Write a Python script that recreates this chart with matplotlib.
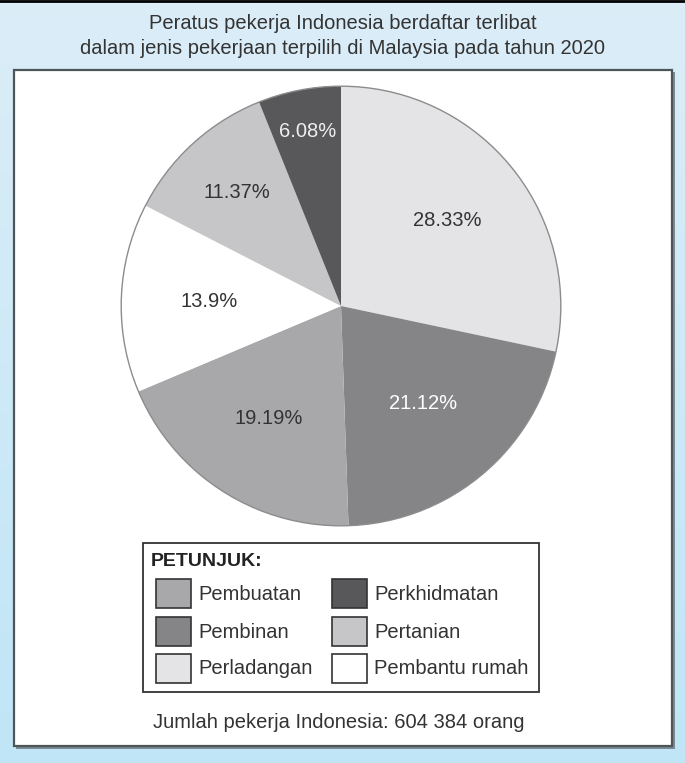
import numpy as np
import matplotlib.pyplot as plt
from matplotlib.patches import Rectangle, Circle

plt.rcParams['font.family'] = ['Liberation Sans', 'DejaVu Sans']

# data (clockwise from 12 o'clock)
categories = ['Perladangan', 'Pembinan', 'Pembuatan', 'Pembantu rumah', 'Pertanian', 'Perkhidmatan']
values = [28.33, 21.12, 19.19, 13.9, 11.37, 6.08]
labels = ['28.33%', '21.12%', '19.19%', '13.9%', '11.37%', '6.08%']
colors = ['#e4e4e6', '#858587', '#a8a8aa', '#ffffff', '#c6c6c8', '#58585a']
label_colors = ['#333333', '#ffffff', '#333333', '#333333', '#333333', '#eeeeee']
label_dist = [0.62, 0.58, 0.61, 0.60, 0.70, 0.81]

legend_order = ['Pembuatan', 'Perkhidmatan', 'Pembinan', 'Pertanian', 'Perladangan', 'Pembantu rumah']

title = 'Peratus pekerja Indonesia berdaftar terlibat\ndalam jenis pekerjaan terpilih di Malaysia pada tahun 2020'
footer = 'Jumlah pekerja Indonesia: 604 384 orang'

W, H = 685, 763
fig = plt.figure(figsize=(W / 100, H / 100), dpi=100)

# background layer in pixel coordinates (y downwards)
bg = fig.add_axes([0, 0, 1, 1])
bg.set_xlim(0, W)
bg.set_ylim(H, 0)
bg.axis('off')
grad = np.linspace(0, 1, 256).reshape(-1, 1)
top = np.array([0.86, 0.93, 0.97])
bot = np.array([0.75, 0.90, 0.97])
img = top[None, None, :] * (1 - grad[:, :, None]) + bot[None, None, :] * grad[:, :, None]
bg.imshow(img, extent=[0, W, H, 0], aspect='auto', zorder=0)
bg.plot([0, W], [1, 1], color='black', lw=2, zorder=1)

# inner white panel with shadow
bg.add_patch(Rectangle((16, 72), 659, 677, facecolor='#7a8a92', edgecolor='none', zorder=1))
bg.add_patch(Rectangle((14, 70), 658, 676, facecolor='white', edgecolor='#4d5558', lw=1.6, zorder=2))

bg.text(W / 2, 36, title, ha='center', va='center', fontsize=14.5, color='#333333',
        linespacing=1.35, zorder=3)
bg.text(339, 722, footer, ha='center', va='center', fontsize=14.5, color='#333333', zorder=3)

# legend box
bg.add_patch(Rectangle((143, 543), 396, 149, facecolor='white', edgecolor='#333333', lw=1.3, zorder=3))
bg.text(151, 561, 'PETUNJUK:', ha='left', va='center', fontsize=14, fontweight='bold',
        color='#222222', zorder=4)
col_x = [156, 332]
row_y = [579, 617, 654]
for i, name in enumerate(legend_order):
    r, c = divmod(i, 2)
    x0, y0 = col_x[c], row_y[r]
    bg.add_patch(Rectangle((x0, y0), 35, 29, facecolor=colors[categories.index(name)],
                           edgecolor='#333333', lw=1.2, zorder=4))
    bg.text(x0 + 42, y0 + 15, name, ha='left', va='center', fontsize=14.5,
            color='#333333', zorder=4)

# pie
cx, cy, rad = 341, 306, 222
ax = fig.add_axes([(cx - rad) / W, 1 - (cy + rad) / H, 2 * rad / W, 2 * rad / H])
ax.set_zorder(5)
wedges, _ = ax.pie(values, colors=colors, startangle=90, counterclock=False,
                   wedgeprops=dict(edgecolor='none'))
ax.add_patch(Circle((0, 0), 1, facecolor='none', edgecolor='#8c8c8c', lw=1.0))
for w, lab, lc, d in zip(wedges, labels, label_colors, label_dist):
    ang = np.deg2rad((w.theta1 + w.theta2) / 2)
    ax.text(d * np.cos(ang), d * np.sin(ang), lab, ha='center', va='center',
            fontsize=14.5, color=lc)
ax.set_xlim(-1.01, 1.01)
ax.set_ylim(-1.01, 1.01)
ax.axis('off')

fig.savefig('out.png', dpi=100)
